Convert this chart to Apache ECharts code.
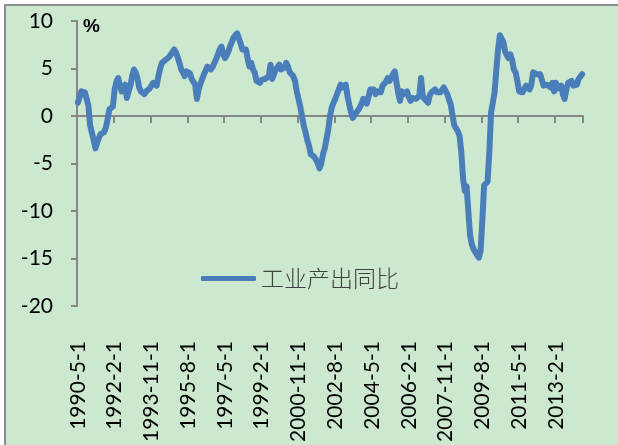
<html>

<head>
    <meta charset="utf-8">
    <title>工业产出同比</title>
    <script src="https://cdn.jsdelivr.net/npm/echarts@6.0.0/dist/echarts.min.js"></script>
    <style>
        html, body { margin: 0; padding: 0; background: #fff; }
    </style>
</head>

<body>
    <div id="main" style="width:618px;height:445px;"></div>
    <script type="text/javascript">
        // monthly, starting 1990-5
        var startYear = 1990;
        var startMonth = 5;
        var seriesName = "工业产出同比";
        var yoy = [
            1.4, 2.0, 2.6, 2.4, 2.5, 2.4, 1.1, -1.0, -1.2, -2.5, -3.4, -2.8,
            -2.3, -1.9, -1.8, -1.7, -1.2, -0.3, 0.7, 0.9, 1.0, 2.8, 3.6, 4.0,
            3.2, 2.6, 2.8, 3.3, 1.9, 2.6, 3.2, 4.2, 4.9, 4.6, 4.0, 3.0,
            2.6, 2.5, 2.3, 2.6, 2.8, 2.9, 3.0, 3.5, 3.3, 3.2, 4.2, 5.0,
            5.6, 5.8, 5.9, 6.1, 6.2, 6.4, 6.7, 7.0, 6.7, 6.2, 5.6, 4.9,
            4.6, 4.2, 4.7, 4.9, 4.5, 3.9, 3.6, 3.3, 1.8, 2.8, 3.4, 3.9,
            4.4, 4.8, 5.2, 5.1, 4.9, 5.2, 5.6, 6.0, 6.5, 7.0, 7.3, 6.5,
            6.1, 6.4, 6.8, 7.4, 7.8, 8.3, 8.5, 8.7, 8.5, 7.6, 7.0, 6.8,
            7.0, 6.0, 5.2, 5.6, 4.9, 4.6, 3.7, 3.6, 3.5, 3.8, 3.9, 3.9,
            4.0, 4.2, 5.4, 3.9, 3.9, 4.9, 5.0, 5.4, 4.9, 5.0, 5.1, 5.6,
            5.2, 4.6, 4.4, 4.2, 3.7, 2.6, 1.8, 1.0, 0.0, -1.0, -1.7, -2.5,
            -3.1, -4.0, -4.1, -4.3, -4.6, -5.0, -5.5, -5.0, -4.0, -3.4, -2.4, -1.4,
            0.0, 0.9, 1.4, 1.8, 2.3, 2.8, 3.3, 3.0, 3.1, 3.3, 2.1, 1.2,
            0.4, -0.2, 0.1, 0.2, 0.6, 0.9, 1.3, 1.8, 1.6, 1.3, 1.1, 2.8,
            2.6, 2.8, 2.3, 2.6, 2.8, 2.5, 3.2, 3.4, 3.6, 4.0, 3.7, 3.5,
            4.4, 4.7, 3.5, 2.4, 1.6, 2.6, 2.3, 2.4, 2.6, 2.0, 1.6, 1.9,
            1.9, 1.8, 1.9, 2.1, 4.0, 2.1, 1.8, 1.6, 1.4, 2.2, 2.5, 2.7,
            2.8, 2.5, 2.6, 2.5, 2.5, 3.0, 2.8, 2.3, 1.7, 1.2, 0.0, -1.0,
            -1.3, -1.6, -2.1, -3.8, -6.6, -7.9, -7.4, -10.0, -12.5, -13.5, -14.0, -14.2,
            -14.6, -14.9, -14.2, -11.0, -7.3, -7.2, -6.9, -3.8, 0.4, 1.4, 2.5, 4.9,
            7.0, 8.5, 8.3, 7.8, 6.8, 6.4, 6.1, 6.5, 5.9, 4.9, 4.6, 3.7,
            2.6, 2.5, 2.5, 2.5, 3.2, 3.3, 2.8, 3.3, 4.6, 4.4, 4.4, 4.6,
            4.4, 4.2, 3.2, 3.0, 3.3, 3.5, 3.0, 3.5, 2.6, 3.5, 2.9, 2.8,
            3.2, 2.3, 1.8, 2.8, 3.5, 3.6, 3.7, 3.2, 3.2, 3.3, 3.9, 3.7, 4.4
        ];
        var tickLabels = ["1990-5-1", "1992-2-1", "1993-11-1", "1995-8-1", "1997-5-1",
            "1999-2-1", "2000-11-1", "2002-8-1", "2004-5-1", "2006-2-1",
            "2007-11-1", "2009-8-1", "2011-5-1", "2013-2-1"];

        var months = [];
        for (var i = 0; i < yoy.length; i++) {
            var m = startMonth - 1 + i;
            months.push((startYear + Math.floor(m / 12)) + "-" + (m % 12 + 1) + "-1");
        }
        function showLabel(index, value) {
            return tickLabels.indexOf(value) >= 0;
        }

        var gray = "#868686";
        var blue = "#4a7ebb";
        var numFont = "Lato";

        var myChart = echarts.init(document.getElementById('main'));
        var option = {
            animation: false,
            backgroundColor: "#ffffff",
            graphic: [{
                type: "rect",
                z: -10,
                shape: { x: 5, y: 5, width: 640, height: 470 },
                style: { fill: "#cce8cf", stroke: "#8c8c8c", lineWidth: 2 }
            }],
            title: {
                text: "%",
                left: 83,
                top: 17,
                padding: 0,
                textStyle: { fontSize: 19, fontWeight: "bold", color: "#000", fontFamily: "Liberation Sans" }
            },
            legend: {
                left: 196,
                top: 262,
                padding: 5,
                icon: "roundRect",
                itemWidth: 55,
                itemHeight: 5,
                data: [seriesName],
                textStyle: { fontSize: 23, color: "#404040", fontFamily: "Noto Sans CJK SC", fontWeight: 300 }
            },
            grid: {
                left: 77,
                right: 35,
                top: 21,
                bottom: 137,
                containLabel: false
            },
            xAxis: [
                {
                    type: "category",
                    data: months,
                    boundaryGap: true,
                    axisLine: { onZero: true, lineStyle: { color: gray, width: 2 } },
                    axisTick: { show: true, interval: showLabel, length: 7, lineStyle: { color: gray, width: 2 } },
                    axisLabel: { show: false },
                    splitLine: { show: false }
                },
                {
                    type: "category",
                    data: months,
                    position: "bottom",
                    boundaryGap: true,
                    axisLine: { show: false, onZero: false },
                    axisTick: { show: false },
                    axisLabel: {
                        interval: showLabel,
                        rotate: 90,
                        margin: 35,
                        fontSize: 21,
                        color: "#000",
                        fontFamily: numFont
                    },
                    splitLine: { show: false }
                }
            ],
            yAxis: {
                type: "value",
                min: -20,
                max: 10,
                interval: 5,
                axisLine: { show: true, lineStyle: { color: gray, width: 2 } },
                axisTick: { show: true, length: 6, lineStyle: { color: gray, width: 2 } },
                axisLabel: { fontSize: 21, color: "#000", margin: 24, fontFamily: numFont },
                splitLine: { show: false }
            },
            series: [
                {
                    name: seriesName,
                    type: "line",
                    data: yoy,
                    symbol: "none",
                    color: blue,
                    itemStyle: { color: blue },
                    lineStyle: { width: 6, color: blue, join: "round", cap: "round" }
                }
            ]
        };
        myChart.setOption(option);
    </script>
</body>

</html>
